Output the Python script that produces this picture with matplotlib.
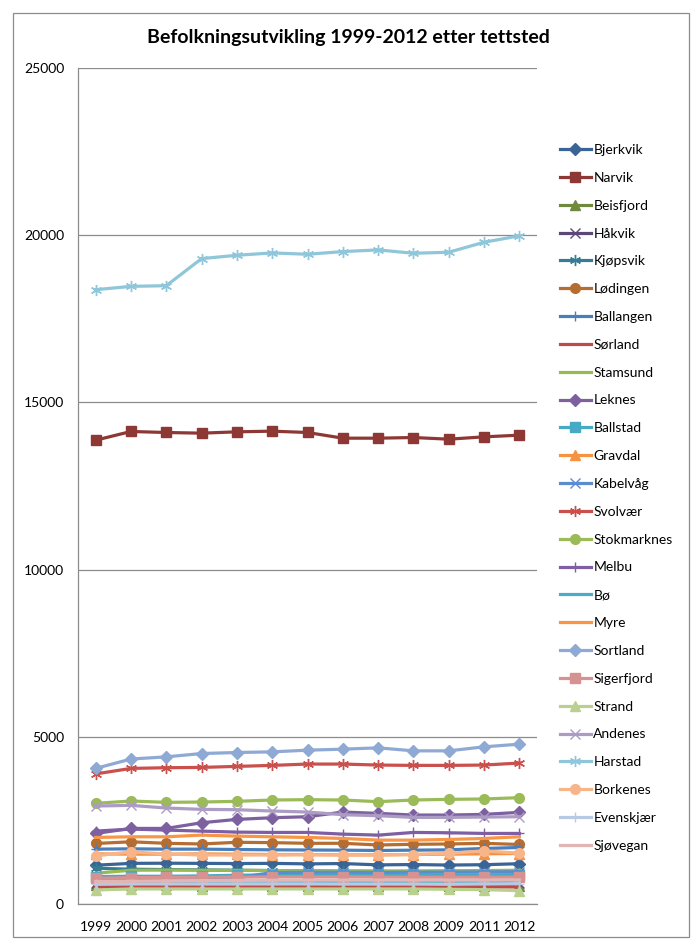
import matplotlib.pyplot as plt
from matplotlib.patches import Rectangle

plt.rcParams['font.family'] = ['Lato', 'DejaVu Sans']

years = ["1999", "2000", "2001", "2002", "2003", "2004", "2005",
         "2006", "2007", "2008", "2009", "2011", "2012"]

bjerkvik = [1160, 1215, 1220, 1215, 1210, 1215, 1200, 1210, 1170, 1180, 1165, 1175, 1205]
narvik = [13870, 14130, 14100, 14080, 14120, 14140, 14100, 13930, 13930, 13950, 13900, 13970, 14020]
beisfjord = [560, 560, 555, 550, 555, 550, 545, 545, 540, 540, 540, 535, 530]
haakvik = [640, 630, 630, 620, 615, 610, 600, 600, 595, 590, 600, 610, 620]
kjopsvik = [1070, 1040, 1030, 1020, 1010, 1000, 990, 980, 975, 970, 965, 960, 955]
lodingen = [1810, 1860, 1815, 1795, 1845, 1835, 1815, 1815, 1765, 1785, 1795, 1815, 1780]
ballangen = [1640, 1650, 1640, 1640, 1630, 1620, 1615, 1610, 1600, 1610, 1620, 1660, 1690]
sorland = [500, 505, 505, 500, 500, 495, 495, 490, 490, 495, 500, 505, 510]
stamsund = [920, 1010, 1015, 1010, 1005, 1000, 995, 990, 985, 990, 995, 1000, 1010]
leknes = [2110, 2260, 2260, 2430, 2530, 2580, 2610, 2750, 2710, 2660, 2660, 2680, 2740]
ballstad = [820, 830, 830, 840, 860, 870, 875, 870, 870, 865, 865, 860, 860]
gravdal = [1500, 1490, 1490, 1500, 1490, 1480, 1480, 1470, 1470, 1480, 1490, 1500, 1510]
kabelvag = [770, 770, 775, 780, 780, 940, 950, 950, 945, 950, 955, 960, 965]
svolvaer = [3890, 4055, 4075, 4085, 4115, 4145, 4185, 4185, 4155, 4145, 4145, 4155, 4215]
stokmarknes = [3010, 3080, 3040, 3050, 3070, 3110, 3120, 3110, 3060, 3110, 3130, 3140, 3180]
melbu = [2180, 2240, 2210, 2180, 2150, 2140, 2140, 2090, 2060, 2140, 2130, 2110, 2110]
bo = [690, 690, 685, 680, 675, 670, 665, 665, 660, 660, 655, 680, 700]
myre = [1990, 2010, 2010, 2060, 2030, 2010, 1990, 1960, 1910, 1910, 1930, 1960, 2010]
sortland = [4055, 4335, 4400, 4500, 4530, 4550, 4600, 4630, 4670, 4580, 4580, 4700, 4780]
sigerfjord = [770, 790, 795, 800, 805, 810, 810, 810, 805, 800, 800, 800, 800]
strand = [420, 450, 450, 450, 450, 450, 450, 450, 450, 450, 440, 430, 400]
andenes = [2930, 2950, 2870, 2830, 2820, 2780, 2750, 2670, 2640, 2590, 2590, 2600, 2610]
harstad = [18370, 18470, 18490, 19300, 19400, 19470, 19430, 19510, 19560, 19460, 19490, 19790, 19980]
borkenes = [1440, 1560, 1495, 1465, 1465, 1465, 1470, 1465, 1465, 1480, 1515, 1590, 1520]
evenskjaer = [590, 600, 600, 600, 600, 600, 600, 595, 595, 595, 590, 600, 610]
sjovegan = [670, 680, 690, 700, 705, 710, 715, 715, 715, 715, 715, 715, 720]

series = [
    ("Bjerkvik", bjerkvik, "#3A6496", "D"),
    ("Narvik", narvik, "#8E3836", "s"),
    ("Beisfjord", beisfjord, "#71893F", "^"),
    ("Håkvik", haakvik, "#5C4776", "x"),
    ("Kjøpsvik", kjopsvik, "#357D91", "star"),
    ("Lødingen", lodingen, "#B66D31", "o"),
    ("Ballangen", ballangen, "#4A7EBB", "+"),
    ("Sørland", sorland, "#BE4B48", None),
    ("Stamsund", stamsund, "#98B954", None),
    ("Leknes", leknes, "#7D60A0", "D"),
    ("Ballstad", ballstad, "#46AAC5", "s"),
    ("Gravdal", gravdal, "#F69240", "^"),
    ("Kabelvåg", kabelvag, "#5B8BD0", "x"),
    ("Svolvær", svolvaer, "#C9504D", "star"),
    ("Stokmarknes", stokmarknes, "#9BBB59", "o"),
    ("Melbu", melbu, "#7F5FA3", "+"),
    ("Bø", bo, "#4BACC6", None),
    ("Myre", myre, "#F79646", None),
    ("Sortland", sortland, "#8EA9D4", "D"),
    ("Sigerfjord", sigerfjord, "#D69290", "s"),
    ("Strand", strand, "#B9D08F", "^"),
    ("Andenes", andenes, "#AC9CC4", "x"),
    ("Harstad", harstad, "#8FC6D9", "star"),
    ("Borkenes", borkenes, "#F9B58A", "o"),
    ("Evenskjær", evenskjaer, "#B7C9E3", "+"),
    ("Sjøvegan", sjovegan, "#E2B6B5", None),
]

fig = plt.figure(figsize=(6.97, 9.39), dpi=100)
ax = fig.add_axes([78 / 697, 1 - 904 / 939, (537 - 78) / 697, (904 - 68) / 939])

x = list(range(len(years)))
for name, vals, col, mk in series:
    kw = dict(color=col, linewidth=2.3, label=name)
    if mk == "star":
        kw.update(marker=(6, 2, 0), markersize=8, markeredgewidth=1.0)
    elif mk in ("x", "+"):
        kw.update(marker=mk, markersize=7, markeredgewidth=1.0)
    elif mk == "D":
        kw.update(marker="D", markersize=6.5, markeredgecolor=col)
    elif mk is not None:
        kw.update(marker=mk, markersize=7, markeredgecolor=col)
    ax.plot(x, vals, **kw)

ax.set_xlim(-0.5, len(years) - 0.5)
ax.set_ylim(0, 25000)
ax.set_yticks(range(0, 25001, 5000))
ax.set_xticks(x)
ax.set_xticklabels(years)
ax.grid(axis="y", color="#8C8C8C", linewidth=0.9)
ax.set_axisbelow(True)
for s in ["top", "right"]:
    ax.spines[s].set_visible(False)
for s in ["left", "bottom"]:
    ax.spines[s].set_color("#8C8C8C")
    ax.spines[s].set_linewidth(0.9)
ax.tick_params(length=0, labelsize=10, pad=10)
ax.tick_params(axis="x", pad=12)

fig.text(0.5, 1 - 37 / 939, "Befolkningsutvikling 1999-2012 etter tettsted",
         ha="center", va="center", fontsize=14, fontweight="bold")

fig.legend(loc="upper left", bbox_to_anchor=(560 / 697, 1 - 144 / 939),
           frameon=False, fontsize=10, handlelength=2.2, handletextpad=0.2,
           labelspacing=1.14, borderaxespad=0, borderpad=0)

fig.patches.append(Rectangle((13 / 697, 2 / 939), 676 / 697, 924 / 939,
                             transform=fig.transFigure, fill=False,
                             edgecolor="#8C8C8C", linewidth=0.9))

fig.savefig("out.png", dpi=100)
